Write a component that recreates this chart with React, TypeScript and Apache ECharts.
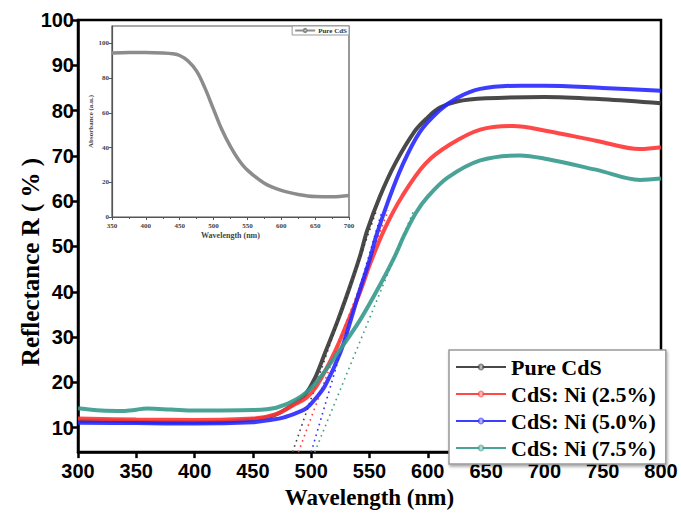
import React, { useEffect, useRef } from "react";
import * as echarts from "echarts";

// Main chart data (wavelength nm -> reflectance %)
const pureW = [300, 325, 350, 375, 400, 425, 450, 465, 473, 482, 490, 495, 503, 512, 523, 533, 542, 548, 559, 572, 589, 600, 610, 625, 650, 700, 750, 800];
const pureR = [11.5, 11.5, 11.3, 11.2, 11.2, 11.3, 11.8, 12.5, 13.3, 14.7, 16.2, 17.3, 20.8, 26.6, 33.8, 41, 48, 53.5, 61.1, 68.3, 75.5, 78.5, 80.6, 82, 82.7, 83, 82.5, 81.6];

const redW = [300, 350, 400, 450, 470, 485, 496, 505, 520, 532, 542, 551, 563, 578, 598, 619, 645, 673, 702, 745, 782, 800];
const redR = [12, 11.8, 11.7, 12, 13, 15, 16.6, 19.3, 26.6, 33.8, 40, 46.5, 53.9, 61.1, 68.3, 72.5, 75.8, 76.6, 75.5, 73.3, 71.5, 71.9];

const blueW = [300, 350, 400, 450, 465, 476, 488, 496, 504, 512, 525, 534, 541, 550, 556, 566, 578, 593, 610, 625, 645, 680, 700, 750, 800];
const blueR = [11.1, 11, 10.9, 11.2, 11.7, 12.2, 13.3, 14.3, 16.5, 19.3, 26.6, 33.8, 39.8, 47, 52.5, 60, 67.8, 75.2, 80, 82.8, 84.8, 85.5, 85.5, 85, 84.4];

const tealW = [300, 320, 340, 360, 380, 400, 450, 470, 487, 502, 523, 542, 559, 572, 580, 590, 600, 617, 645, 679, 702, 745, 782, 800];
const tealR = [14.3, 13.8, 13.7, 14.2, 14, 13.8, 13.9, 14.4, 16.2, 19.3, 26.6, 33.8, 41.5, 48, 52.6, 57.5, 61, 65.2, 69, 70.1, 69.3, 66.9, 64.7, 65];

// Tangent (band-gap extrapolation) dotted lines
const tangentStartW = [484, 489, 500, 503];
const tangentEndW = [556, 566, 561, 588];
const tangentStartR = [4.6, 4.6, 4.6, 4.6];
const tangentEndR = [58, 58, 58, 58];

// Inset data (absorbance)
const insetW = [350, 375, 400, 425, 440, 450, 462, 475, 487, 500, 512, 525, 537, 550, 575, 600, 625, 650, 675, 700];
const insetA = [94.5, 94.8, 94.8, 94.5, 94, 93, 90, 84, 74.5, 62, 50.5, 40.5, 33, 27, 19.5, 15.3, 13, 11.8, 11.7, 12.4];

const seriesNames = ["Pure CdS", "CdS: Ni (2.5%)", "CdS: Ni (5.0%)", "CdS: Ni (7.5%)"];
const yTicks = [10, 20, 30, 40, 50, 60, 70, 80, 90, 100];
const insetYTicks = [0, 20, 40, 60, 80, 100];

const colors = ["#353535", "#ff3535", "#2828ff", "#36998c"];
const dotColors = ["#444444", "#ff4040", "#3030ff", "#3f9e7a"];

const SERIF = "'Liberation Serif', 'Times New Roman', serif";
const SANS = "'Liberation Sans', Arial, sans-serif";

const zip = (xs: number[], ys: number[]) => xs.map((x, i) => [x, ys[i]]);

export default function App() {
  const ref = useRef<HTMLDivElement>(null);

  useEffect(() => {
    if (!ref.current) return;
    const chart = echarts.init(ref.current, undefined, { renderer: "svg" });

    const mainData = [zip(pureW, pureR), zip(redW, redR), zip(blueW, blueR), zip(tealW, tealR)];

    const mainSeries: any[] = mainData.map((d, i) => ({
      name: seriesNames[i],
      type: "line",
      xAxisIndex: 0,
      yAxisIndex: 0,
      data: d,
      smooth: 0.35,
      symbol: "emptyCircle",
      symbolSize: 5,
      showSymbol: false,
      lineStyle: { color: colors[i], width: 4, opacity: 0.9 },
      itemStyle: { color: colors[i], opacity: 0.6 },
      z: 3,
    }));

    const tangentSeries: any[] = tangentStartW.map((w, i) => ({
      name: "tangent" + i,
      type: "line",
      xAxisIndex: 0,
      yAxisIndex: 0,
      data: [
        [w, tangentStartR[i]],
        [tangentEndW[i], tangentEndR[i]],
      ],
      symbol: "none",
      lineStyle: { color: dotColors[i], width: 1.6, type: [1.6, 4] },
      z: 2,
    }));

    const insetSeries = {
      name: "Pure CdS inset",
      type: "line",
      xAxisIndex: 1,
      yAxisIndex: 1,
      data: zip(insetW, insetA),
      smooth: 0.35,
      symbol: "emptyCircle",
      symbolSize: 4,
      showSymbol: false,
      lineStyle: { color: "#8c8c8c", width: 3.5 },
      itemStyle: { color: "#8c8c8c" },
      z: 3,
    };

    chart.setOption({
      animation: false,
      backgroundColor: "#ffffff",
      grid: [
        { left: 78, right: 20, top: 20, bottom: 52, show: true, borderColor: "#000", borderWidth: 2.5, backgroundColor: "transparent" },
        { left: 112, top: 26, width: 237, height: 191, show: true, borderColor: "#555", borderWidth: 1.2, backgroundColor: "#fff" },
      ],
      graphic: [
        {
          type: "text",
          x: 30,
          y: 262,
          rotation: Math.PI / 2,
          style: {
            text: "Reflectance R ( % )",
            align: "center",
            verticalAlign: "middle",
            fontFamily: SERIF,
            fontWeight: "bold",
            fontSize: 25,
            fill: "#000",
          },
        },
      ],
      xAxis: [
        {
          type: "value",
          gridIndex: 0,
          min: 300,
          max: 800,
          interval: 50,
          name: "Wavelength (nm)",
          nameLocation: "middle",
          nameGap: 30,
          nameTextStyle: { fontFamily: SERIF, fontWeight: "bold", fontSize: 23, color: "#000" },
          axisLine: { lineStyle: { color: "#000", width: 2.5 } },
          axisTick: { inside: false, length: 6, lineStyle: { color: "#000", width: 2.5 } },
          axisLabel: { fontFamily: SANS, fontWeight: "bold", fontSize: 20, color: "#000", margin: 9 },
          splitLine: { show: false },
        },
        {
          type: "value",
          gridIndex: 1,
          min: 350,
          max: 700,
          interval: 50,
          name: "Wavelength (nm)",
          nameLocation: "middle",
          nameGap: 14,
          nameTextStyle: { fontFamily: SERIF, fontWeight: "bold", fontSize: 8, color: "#444" },
          axisLine: { lineStyle: { color: "#555", width: 1.2 } },
          axisTick: { length: 3, lineStyle: { color: "#555", width: 1 } },
          minorTick: { show: true, splitNumber: 2, length: 2, lineStyle: { color: "#555" } },
          axisLabel: { fontFamily: SERIF, fontWeight: "bold", fontSize: 7, color: "#444", margin: 5 },
          splitLine: { show: false },
        },
      ],
      yAxis: [
        {
          type: "value",
          gridIndex: 0,
          min: 4.6,
          max: 100,
          axisLine: { lineStyle: { color: "#000", width: 2.5 } },
          axisTick: { length: 7, customValues: yTicks, lineStyle: { color: "#000", width: 2.5 } },
          axisLabel: { fontFamily: SANS, fontWeight: "bold", fontSize: 20, color: "#000", margin: 4, customValues: yTicks },
          splitLine: { show: false },
        },
        {
          type: "value",
          gridIndex: 1,
          min: 0,
          max: 110,
          name: "Absorbance (a.u.)",
          nameLocation: "middle",
          nameGap: 17,
          nameTextStyle: { fontFamily: SERIF, fontWeight: "bold", fontSize: 7, color: "#444" },
          axisLine: { lineStyle: { color: "#555", width: 1.2 } },
          axisTick: { length: 3, customValues: insetYTicks, lineStyle: { color: "#555", width: 1 } },
          axisLabel: { fontFamily: SERIF, fontWeight: "bold", fontSize: 7, color: "#444", margin: 3, customValues: insetYTicks },
          splitLine: { show: false },
        },
      ],
      legend: [
        {
          data: seriesNames,
          orient: "vertical",
          left: 449,
          top: 350,
          width: 212,
          padding: [6, 10, 5, 6],
          itemGap: 5,
          itemWidth: 50,
          itemHeight: 6,
          backgroundColor: "#fff",
          borderColor: "#999",
          borderWidth: 1.5,
          borderRadius: 0,
          shadowColor: "rgba(0,0,0,0.35)",
          shadowBlur: 3,
          shadowOffsetX: 1,
          shadowOffsetY: 2,
          textStyle: { fontFamily: SERIF, fontWeight: "bold", fontSize: 22, lineHeight: 22, color: "#000" },
        },
        {
          data: ["Pure CdS inset"],
          orient: "horizontal",
          right: 332,
          top: 26,
          padding: [1, 2, 1, 2],
          itemWidth: 20,
          itemHeight: 4,
          backgroundColor: "#fff",
          borderColor: "#999",
          borderWidth: 1,
          formatter: () => "Pure CdS",
          textStyle: { fontFamily: SERIF, fontWeight: "bold", fontSize: 7, color: "#333", padding: [0, 0, 0, -2] },
        },
      ],
      series: [...tangentSeries, ...mainSeries, insetSeries],
    });

    return () => chart.dispose();
  }, []);

  return <div ref={ref} style={{ width: 681, height: 514, position: "absolute", left: 0, top: 0 }} />;
}
